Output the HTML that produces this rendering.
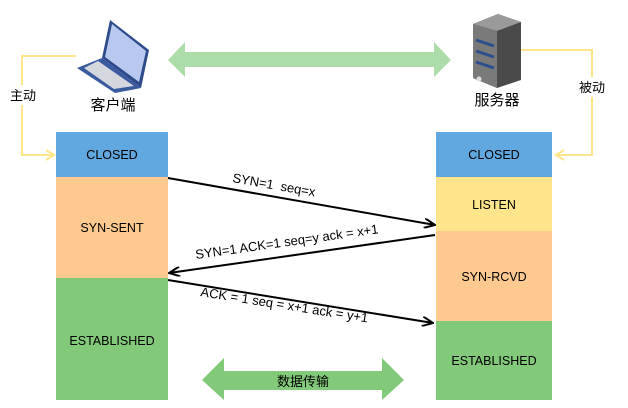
<!DOCTYPE html><html><head><meta charset="utf-8"><style>body{margin:0;background:#fff}svg{display:block}text{font-family:"Liberation Sans","Noto Sans CJK SC",sans-serif}</style></head><body>
<svg width="628" height="408" viewBox="0 0 628 408">
<defs><marker id="a" markerWidth="12" markerHeight="10" refX="11" refY="5" orient="auto" markerUnits="userSpaceOnUse"><path d="M0,0 L11,5 L0,10" fill="none" stroke="#000" stroke-width="2"/></marker></defs>
<polyline points="76,56 22,56 22,155 54,155" fill="none" stroke="#fde68a" stroke-width="2"/>
<path d="M46,150 L54,155 L46,160" fill="none" stroke="#fde68a" stroke-width="2"/>
<polyline points="521,50 592,50 592,155 556,155" fill="none" stroke="#fde68a" stroke-width="2"/>
<path d="M564,150 L556,155 L564,160" fill="none" stroke="#fde68a" stroke-width="2"/>
<rect x="9" y="85" width="29" height="20" fill="#fff"/><text x="23" y="100" font-size="13" text-anchor="middle">主动</text>
<rect x="578" y="77" width="29" height="20" fill="#fff"/><text x="592" y="92" font-size="13" text-anchor="middle">被动</text>
<polygon points="168,60 185,42 185,52 434,52 434,42 451,60 434,77 434,67 185,67 185,77" fill="#acdca8"/>
<!-- laptop -->
<polygon points="110,20 149,50 141,88 102,58" fill="#2d4a8a"/>
<polygon points="112,24 146,51 139,82 105,57" fill="#b8c8ee"/>
<polygon points="102,58 141,88 115,93 77,68" fill="#3a5aa0"/>
<polygon points="98,61 134,86 114,89 84,68" fill="#d4d7de"/>
<!-- server -->
<polygon points="473,24 498,14 521,22 521,80 497,88 473,78" fill="#4a4a4a"/>
<polygon points="473,24 498,14 521,22 497,31" fill="#9a9a9a"/>
<polygon points="473,24 497,31 497,88 473,78" fill="#7a7a7a"/>
<path d="M476,40 L494,46 M476,51 L494,57 M476,62 L494,68" stroke="#2a4f8c" stroke-width="3"/>
<circle cx="479" cy="79" r="2.5" fill="#ddd"/>
<text x="113" y="110" font-size="15" text-anchor="middle">客户端</text>
<text x="497" y="105" font-size="15" text-anchor="middle">服务器</text>
<rect x="56" y="132" width="112" height="45" fill="#62a8e0"/>
<rect x="56" y="177" width="112" height="101" fill="#fdc98f"/>
<rect x="56" y="278" width="112" height="122" fill="#82c979"/>
<text x="112" y="159" font-size="12.5" text-anchor="middle">CLOSED</text>
<text x="112" y="232" font-size="12.5" text-anchor="middle">SYN-SENT</text>
<text x="112" y="345" font-size="12.5" text-anchor="middle">ESTABLISHED</text>
<rect x="436" y="132" width="116" height="45" fill="#62a8e0"/>
<rect x="436" y="177" width="116" height="54" fill="#fee58b"/>
<rect x="436" y="231" width="116" height="90" fill="#fdc98f"/>
<rect x="436" y="321" width="116" height="79" fill="#82c979"/>
<text x="494" y="159" font-size="12.5" text-anchor="middle">CLOSED</text>
<text x="494" y="209" font-size="12.5" text-anchor="middle">LISTEN</text>
<text x="494" y="281" font-size="12.5" text-anchor="middle">SYN-RCVD</text>
<text x="494" y="365" font-size="12.5" text-anchor="middle">ESTABLISHED</text>
<line x1="168" y1="178" x2="435" y2="225" stroke="#000" stroke-width="2" marker-end="url(#a)"/>
<line x1="435" y1="235" x2="169" y2="273" stroke="#000" stroke-width="2" marker-end="url(#a)"/>
<line x1="168" y1="280" x2="433" y2="323" stroke="#000" stroke-width="2" marker-end="url(#a)"/>
<text transform="translate(232,182) rotate(10)" font-size="13">SYN=1&#160; seq=x</text>
<text transform="translate(196,259) rotate(-8)" font-size="13">SYN=1 ACK=1 seq=y ack = x+1</text>
<text transform="translate(200,296) rotate(9)" font-size="13">ACK = 1 seq = x+1 ack = y+1</text>
<polygon points="202,380 224,358 224,371 382,371 382,358 404,380 382,400 382,390 224,390 224,400" fill="#82c979"/>
<text x="303" y="386" font-size="13" text-anchor="middle">数据传输</text>
</svg></body></html>
